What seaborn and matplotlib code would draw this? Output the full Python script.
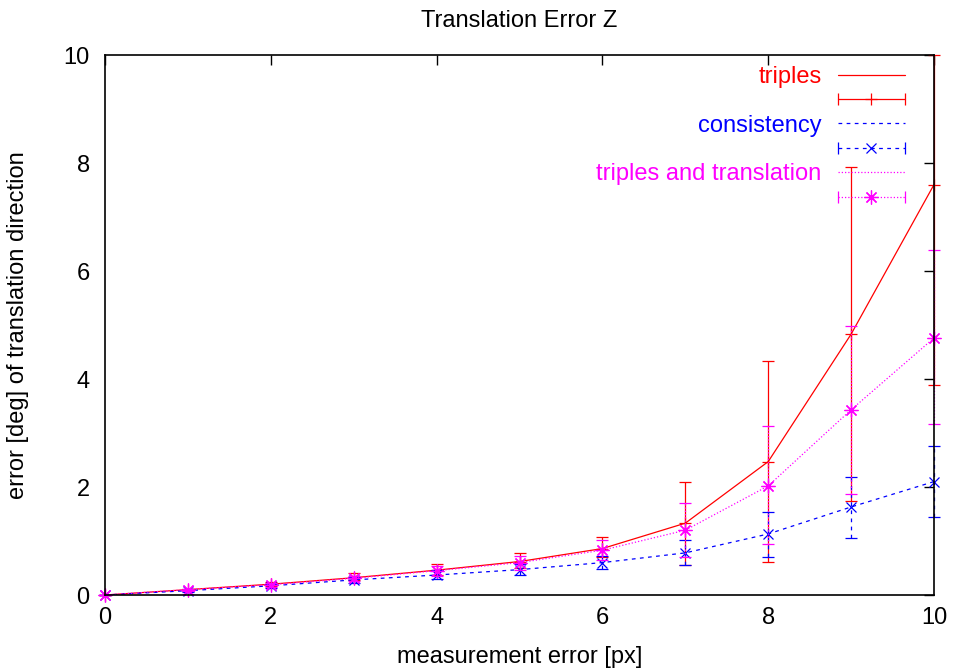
import numpy as np
import pandas as pd
import matplotlib
matplotlib.use("Agg")
import matplotlib.pyplot as plt
from matplotlib.lines import Line2D
from matplotlib.legend_handler import HandlerLine2D, HandlerTuple
import seaborn as sns

# measurement error [px]
noise = [0, 1, 2, 3, 4, 5, 6, 7, 8, 9, 10]

# mean error and error-bar bounds per method
triples = [0.00, 0.10, 0.20, 0.32, 0.46, 0.62, 0.86, 1.33, 2.47, 4.83, 7.60]
triples_lo = [0.00, 0.08, 0.16, 0.27, 0.37, 0.50, 0.70, 0.55, 0.62, 1.75, 3.88]
triples_hi = [0.00, 0.12, 0.24, 0.40, 0.57, 0.77, 1.08, 2.10, 4.33, 7.92, 10.0]

consistency = [0.00, 0.08, 0.17, 0.28, 0.37, 0.47, 0.60, 0.78, 1.13, 1.63, 2.10]
consistency_lo = [0.00, 0.06, 0.13, 0.22, 0.30, 0.37, 0.48, 0.56, 0.71, 1.05, 1.45]
consistency_hi = [0.00, 0.10, 0.21, 0.34, 0.46, 0.58, 0.72, 1.02, 1.54, 2.19, 2.76]

tri_trans = [0.00, 0.10, 0.19, 0.31, 0.45, 0.60, 0.83, 1.20, 2.02, 3.43, 4.76]
tri_trans_lo = [0.00, 0.08, 0.15, 0.26, 0.36, 0.47, 0.65, 0.70, 0.94, 1.87, 3.16]
tri_trans_hi = [0.00, 0.12, 0.23, 0.36, 0.54, 0.73, 1.02, 1.70, 3.13, 4.98, 6.38]

labels = ["triples", "consistency", "triples and translation"]
ticks = [0, 2, 4, 6, 8, 10]

sns.set_style("white")
plt.rcParams["font.family"] = ["Liberation Sans", "DejaVu Sans"]
plt.rcParams["text.color"] = "black"
plt.rcParams["axes.labelcolor"] = "black"
FS = 17

series = [
    (labels[0], triples, triples_lo, triples_hi, "#ff0000", "-", "+", 9.0, "solid"),
    (labels[1], consistency, consistency_lo, consistency_hi, "#0000ff", (0, (3, 3.5)), "x", 7.5, (0, (3, 3.5))),
    (labels[2], tri_trans, tri_trans_lo, tri_trans_hi, "#ff00ff", (0, (1, 1.6)), (8, 2, 0), 10.0, (0, (1, 1.6))),
]

fig = plt.figure(figsize=(9.56, 6.72), dpi=100)
ax = fig.add_axes([105 / 956, 77 / 672, 829 / 956, 540 / 672])

handles, leg_labels, hmap = [], [], {}
for name, y, lo, hi, col, ls, mk, ms, bls in series:
    df = pd.DataFrame({"x": noise, "y": y})
    sns.lineplot(data=df, x="x", y="y", color=col, linestyle=ls, lw=0.9,
                 ax=ax, legend=False)
    ya, loa, hia = np.array(y), np.array(lo), np.array(hi)
    eb = ax.errorbar(noise, ya, yerr=[ya - loa, hia - ya], fmt="none",
                     ecolor=col, elinewidth=0.9, capsize=4.5, capthick=0.9,
                     clip_on=False)
    for bc in eb[2]:
        bc.set_linestyle(bls)
    for cl in eb[1]:
        cl.set_clip_on(False)
    ax.plot(noise, y, ls="none", marker=mk, ms=ms, mew=0.9, color=col,
            clip_on=False)

    line_h = Line2D([], [], color=col, ls=ls, lw=0.9)
    cap_h = Line2D([], [], color=col, ls=ls, lw=0.9, marker="|", ms=8, mew=0.9)
    mk_h = Line2D([], [], color=col, ls="none", marker=mk, ms=ms, mew=0.9)
    hmap[cap_h] = HandlerLine2D(numpoints=2, marker_pad=0)
    hmap[mk_h] = HandlerLine2D(numpoints=1)
    handles += [line_h, (cap_h, mk_h)]
    leg_labels += [name, ""]

hmap[tuple] = HandlerTuple(ndivide=1, pad=0)

ax.set_xlim(0, 10)
ax.set_ylim(0, 10)
ax.set_xticks(ticks)
ax.set_yticks(ticks)
ax.tick_params(direction="in", length=7, width=1, top=True, right=True,
               labelsize=FS, colors="black")
ax.tick_params(axis="y", pad=11)
ax.tick_params(axis="x", pad=9)
for sp in ax.spines.values():
    sp.set_color("black")
    sp.set_linewidth(1.2)

ax.set_xlabel("measurement error [px]", fontsize=FS)
ax.set_ylabel("error [deg] of translation direction", fontsize=FS)
ax.xaxis.label.set_va("center")
ax.yaxis.label.set_va("center")
ax.xaxis.set_label_coords(0.5, -(657 - 595) / 540)
ax.yaxis.set_label_coords(-(105 - 18) / 829, 0.5)
ax.set_title("Translation Error Z", fontsize=FS, pad=20, color="black")

leg = ax.legend(handles, leg_labels, handler_map=hmap, loc="upper right",
                bbox_to_anchor=((905 - 105) / 829, (595 - 66) / 540),
                frameon=False, fontsize=FS, markerfirst=False,
                handlelength=2.85, handletextpad=0.68, labelspacing=0.1,
                borderpad=0, borderaxespad=0)
for txt, (name, *_rest) in zip(leg.get_texts()[::2], series):
    txt.set_color(_rest[3])

fig.savefig("out.png", dpi=100, facecolor="white")
